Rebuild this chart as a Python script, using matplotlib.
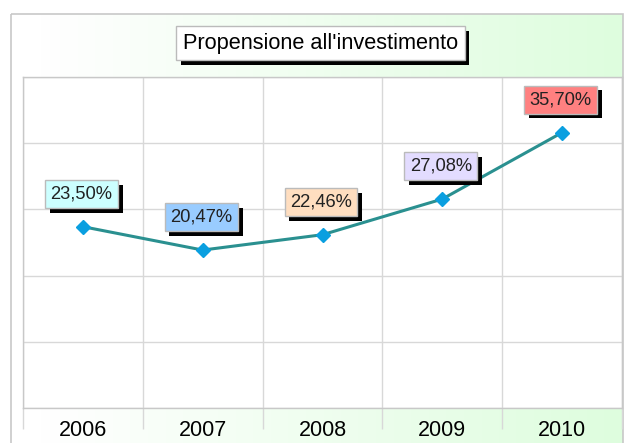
import matplotlib
matplotlib.use("Agg")
import matplotlib.pyplot as plt
import matplotlib.patheffects as pe
import numpy as np
from matplotlib.patches import Rectangle

plt.rcParams['font.family'] = ['Liberation Sans', 'DejaVu Sans']

years = ["2006", "2007", "2008", "2009", "2010"]
values = [23.50, 20.47, 22.46, 27.08, 35.70]
labels = ["23,50%", "20,47%", "22,46%", "27,08%", "35,70%"]
label_colors = ["#CCFFFF", "#99CCFF", "#FFDEC0", "#E3DCFF", "#FF8080"]
title = "Propensione all'investimento"

W, H = 625, 443
fig = plt.figure(figsize=(W / 100, H / 100), dpi=100)

# background frame with gradient
bg = fig.add_axes([0, 0, 1, 1])
bg.set_xlim(0, W)
bg.set_ylim(H, 0)
bg.axis("off")
grad = np.linspace(0, 1, 256)
grad = np.clip((grad - 0.05) / 0.95, 0, 1)
c0 = np.array([1.0, 1.0, 1.0])
c1 = np.array([222, 253, 222]) / 255.0
img = c0[None, None, :] * (1 - grad[None, :, None]) + c1[None, None, :] * grad[None, :, None]
img = np.repeat(img, 2, axis=0)
bg.imshow(img, extent=[11, 623, H, 14], aspect="auto", zorder=0)
bg.add_patch(Rectangle((11, 14), 612, H, fill=False, edgecolor="#C8C8C8", lw=1.2, zorder=1))

# title box
bg.text(320.5, 43, title, fontsize=15.7, ha="center", va="center", color="black",
        bbox=dict(boxstyle="square,pad=0.3", facecolor="white", edgecolor="#BBBBBB", lw=1.0,
                  path_effects=[pe.SimplePatchShadow(offset=(3.5, -3.5), shadow_rgbFace="black", alpha=1.0), pe.Normal()]),
        zorder=5)

# plot area
left, right, top, bottom = 23, 622, 77, 408
ax = fig.add_axes([left / W, (H - bottom) / H, (right - left) / W, (bottom - top) / H])
ax.set_facecolor("white")
x = np.arange(len(years))
ax.set_xlim(-0.5, len(years) - 0.5)
ax.set_ylim(0, 42.9)
ax.set_yticks(np.linspace(0, 42.9, 6))
ax.set_yticklabels([])
ax.tick_params(axis="y", length=0)
ax.set_xticks(x)
ax.set_xticklabels(years, fontsize=15.5)
ax.tick_params(axis="x", length=0, pad=9)
ax.set_xticks(np.arange(-0.5, len(years)), minor=True)
ax.tick_params(axis="x", which="minor", length=15, color="#D8D8D8", width=1)
ax.grid(True, which="minor", axis="x", color="#D8D8D8", lw=1)
ax.grid(True, which="major", axis="y", color="#D8D8D8", lw=1)
ax.set_axisbelow(True)
for s in ax.spines.values():
    s.set_color("#C8C8C8")
    s.set_linewidth(1)

ax.plot(x, values, color="#2A9090", lw=2.2, zorder=3)
ax.plot(x, values, linestyle="none", marker="D", markersize=7, color="#0A9FE0",
        markeredgecolor="#0A9FE0", zorder=4)

for xi, v, lab, col in zip(x, values, labels, label_colors):
    ax.annotate(lab, (xi, v), xytext=(-1.5, 33), textcoords="offset pixels",
                ha="center", va="center", fontsize=13.2, color="#222222",
                bbox=dict(boxstyle="square,pad=0.3", facecolor=col, edgecolor="#BBBBBB", lw=1.0,
                          path_effects=[pe.SimplePatchShadow(offset=(3.5, -3.5), shadow_rgbFace="black", alpha=1.0), pe.Normal()]),
                zorder=6, annotation_clip=False)

fig.savefig("out.png", dpi=100)
